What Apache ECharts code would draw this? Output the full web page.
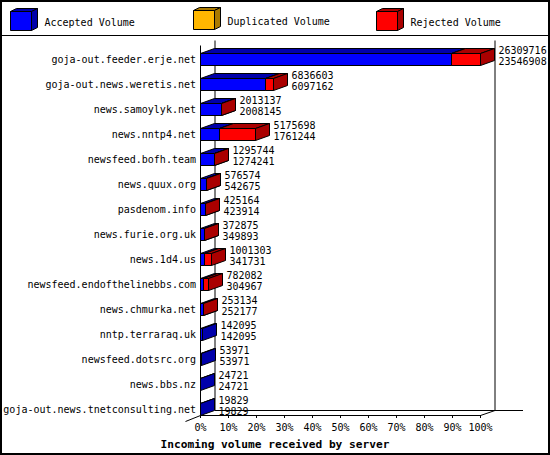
<!DOCTYPE html>
<html>
<head>
<meta charset="utf-8">
<script src="https://cdn.jsdelivr.net/npm/echarts@6/dist/echarts.min.js"></script>
<style>
  html, body { margin: 0; padding: 0; background: #fff; }
  #chart { width: 550px; height: 455px; }
</style>
</head>
<body>
<div id="chart"></div>
<script>
// hosts, top to bottom
var hosts = [
  'goja-out.feeder.erje.net',
  'goja-out.news.weretis.net',
  'news.samoylyk.net',
  'news.nntp4.net',
  'newsfeed.bofh.team',
  'news.quux.org',
  'pasdenom.info',
  'news.furie.org.uk',
  'news.1d4.us',
  'newsfeed.endofthelinebbs.com',
  'news.chmurka.net',
  'nntp.terraraq.uk',
  'newsfeed.dotsrc.org',
  'news.bbs.nz',
  'goja-out.news.tnetconsulting.net'
];
// first number next to each bar (offered) and second one (accepted)
var offered = [26309716, 6836603, 2013137, 5175698, 1295744, 576574, 425164, 372875,
  1001303, 782082, 253134, 142095, 53971, 24721, 19829];
var accepted = [23546908, 6097162, 2008145, 1761244, 1274241, 542675, 423914, 349893,
  341731, 304967, 252177, 142095, 53971, 24721, 19829];
var duplicated = [0, 0, 0, 0, 0, 0, 0, 0, 0, 0, 0, 0, 0, 0, 0];
var rejected = [2762808, 739441, 4992, 3414454, 21503, 33899, 1250, 22982,
  659572, 477115, 957, 0, 0, 0, 0];
var seriesNames = ['Accepted Volume', 'Duplicated Volume', 'Rejected Volume'];
var percentTicks = ['0%', '10%', '20%', '30%', '40%', '50%', '60%', '70%', '80%', '90%', '100%'];

var FRONT = ['#0000ff', '#ffb700', '#ff0000'];
var SHADE = ['#0000aa', '#aa7a00', '#aa0000'];
var FONT = '10px "DejaVu Sans Mono", monospace';
var DX = 14, DY = 5, BAR_H = 12;

var maxTotal = Math.max.apply(null, offered);

function px(v) { return Math.round(v - 0.5) + 0.5; }

// 3d box: front face, top face, right side face
function box3d(x0, x1, yc, front, shade) {
  var t = px(yc - BAR_H / 2), b = px(yc + BAR_H / 2);
  x0 = px(x0); x1 = px(x1);
  var st = { stroke: '#000', lineWidth: 1 };
  return [
    { type: 'rect', shape: { x: x0, y: t, width: x1 - x0, height: b - t },
      style: Object.assign({ fill: front }, st) },
    { type: 'polygon', shape: { points: [[x0, t], [x1, t], [x1 + DX, t - DY], [x0 + DX, t - DY]] },
      style: Object.assign({ fill: shade }, st) },
    { type: 'polygon', shape: { points: [[x1, t], [x1 + DX, t - DY], [x1 + DX, b - DY], [x1, b]] },
      style: Object.assign({ fill: shade }, st) }
  ];
}

function segmentRenderer(k, withLabels) {
  return function (params, api) {
    var cat = api.value(0), v0 = api.value(1), v1 = api.value(2);
    var a = api.coord([v0, cat]);
    var b = api.coord([v1, cat]);
    var children = [];
    if (v1 > v0) children = box3d(a[0], b[0], a[1], FRONT[k], SHADE[k]);
    if (withLabels) {
      var lx = px(b[0]) + DX + 4;
      children.push({ type: 'text', style: { x: lx, y: a[1] - 9, text: String(offered[params.dataIndex]),
        font: FONT, fill: '#000', verticalAlign: 'middle' } });
      children.push({ type: 'text', style: { x: lx, y: a[1] + 2, text: String(accepted[params.dataIndex]),
        font: FONT, fill: '#000', verticalAlign: 'middle' } });
    }
    return { type: 'group', children: children };
  };
}

// walls and floor of the 3d plot
function renderFrame(params, api) {
  var first = api.coord([0, 0]);
  var last = api.coord([maxTotal, hosts.length - 1]);
  var extra = api.coord([maxTotal * 1.1, hosts.length - 1]);
  var xl = px(first[0]), xr = px(last[0]);
  var topY = px(first[1] - 14), floorY = px(last[1] + BAR_H / 2);
  var d = 14.5;
  var st = { stroke: '#000', lineWidth: 1, fill: null };
  var lines = [
    [[xl, topY], [xl, floorY]],
    [[xl + d, topY - DY], [xl + d, floorY - DY]],
    [[xr + d, topY - DY], [xr + d, floorY - DY]],
    [[xl + d, floorY - DY], [px(extra[0]) + d, floorY - DY]],
    [[xl - 15, floorY + 6], [xl, floorY]],
    [[xr, floorY], [xr + d, floorY - DY]],
    [[xl, floorY], [xr, floorY]]
  ];
  return {
    type: 'group',
    children: lines.map(function (p) {
      return { type: 'polyline', shape: { points: p }, style: st };
    })
  };
}

function legendItem(x, y, k) {
  var w = 21, h = 19, d = 6, e = 3;
  var st = { stroke: '#000', lineWidth: 1 };
  return {
    type: 'group',
    children: [
      { type: 'rect', shape: { x: x, y: y, width: w, height: h }, style: Object.assign({ fill: FRONT[k] }, st) },
      { type: 'polygon', shape: { points: [[x, y], [x + w, y], [x + w + d, y - e], [x + d, y - e]] },
        style: Object.assign({ fill: SHADE[k] }, st) },
      { type: 'polygon', shape: { points: [[x + w, y], [x + w + d, y - e], [x + w + d, y + h - e], [x + w, y + h]] },
        style: Object.assign({ fill: SHADE[k] }, st) },
      { type: 'text', style: { x: x + 34, y: y + h / 2 + 1, text: seriesNames[k], font: FONT, fill: '#000',
        verticalAlign: 'middle' } }
    ]
  };
}

var accData = [], dupData = [], rejData = [];
for (var i = 0; i < hosts.length; i++) {
  accData.push([i, 0, accepted[i]]);
  dupData.push([i, accepted[i], accepted[i] + duplicated[i]]);
  rejData.push([i, accepted[i] + duplicated[i], accepted[i] + duplicated[i] + rejected[i]]);
}

var chart = echarts.init(document.getElementById('chart'), null, { renderer: 'svg' });

var option = {
  backgroundColor: '#ffffff',
  animation: false,
  title: {
    text: 'Incoming volume received by server',
    left: 'center',
    top: 434,
    textStyle: { fontFamily: 'DejaVu Sans Mono', fontSize: 11.2, fontWeight: 'bold', color: '#000' }
  },
  grid: { left: 200.5, right: 69.5, top: 46.5, bottom: 33.5 },
  xAxis: {
    type: 'value',
    min: 0,
    max: maxTotal,
    interval: maxTotal / 10,
    offset: -6.5,
    axisLine: { show: true, lineStyle: { color: '#000', width: 1 } },
    axisTick: { show: true, length: 3, lineStyle: { color: '#000' } },
    splitLine: { show: false },
    axisLabel: {
      margin: 7,
      color: '#000',
      fontFamily: 'DejaVu Sans Mono',
      fontSize: 10,
      formatter: function (v) {
        return percentTicks[Math.round(v / maxTotal * 10)];
      }
    }
  },
  yAxis: {
    type: 'category',
    inverse: true,
    data: hosts,
    axisLine: { show: false },
    axisTick: { show: false },
    axisLabel: { margin: 4.5, color: '#000', fontFamily: 'DejaVu Sans Mono', fontSize: 10 }
  },
  graphic: [
    { type: 'rect', shape: { x: 1, y: 1, width: 548, height: 453 }, style: { fill: null, stroke: '#000', lineWidth: 2 } },
    { type: 'line', shape: { x1: 0, y1: 35.5, x2: 550, y2: 35.5 }, style: { stroke: '#000', lineWidth: 1 } },
    legendItem(10.5, 11.5, 0),
    legendItem(193.5, 10.5, 1),
    legendItem(376.5, 11.5, 2)
  ],
  series: [
    { type: 'custom', name: 'frame', silent: true, z: 1, renderItem: renderFrame, data: [[0]],
      encode: { x: 0 } },
    { type: 'custom', name: seriesNames[0], z: 2, renderItem: segmentRenderer(0, false), data: accData,
      encode: { y: 0, x: [1, 2] } },
    { type: 'custom', name: seriesNames[1], z: 3, renderItem: segmentRenderer(1, false), data: dupData,
      encode: { y: 0, x: [1, 2] } },
    { type: 'custom', name: seriesNames[2], z: 4, renderItem: segmentRenderer(2, true), data: rejData,
      encode: { y: 0, x: [1, 2] } }
  ]
};

chart.setOption(option);
</script>
</body>
</html>
